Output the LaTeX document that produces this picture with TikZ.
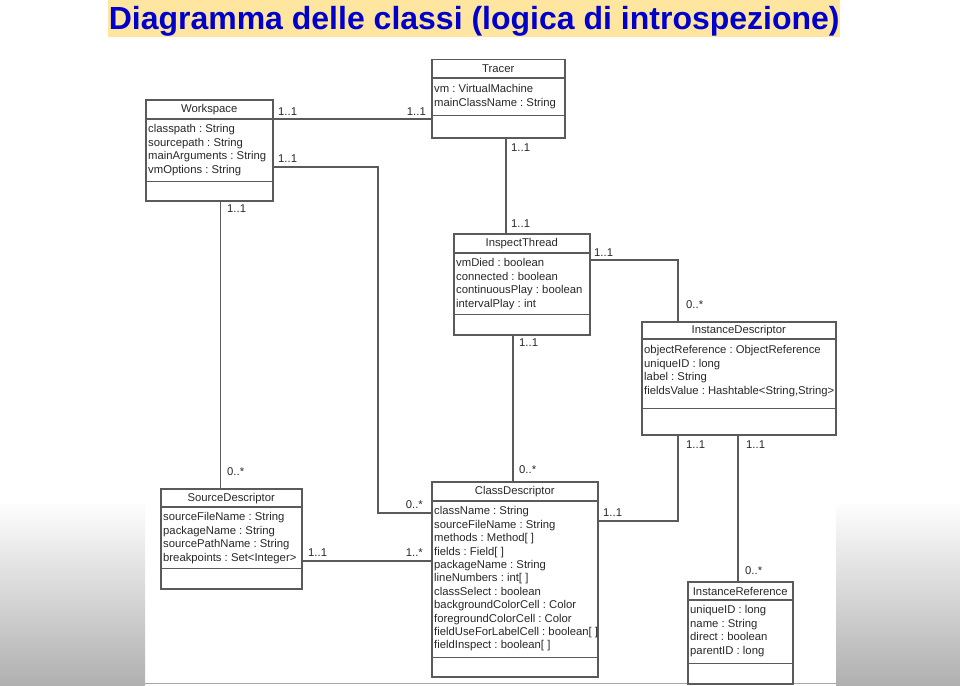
\documentclass[tikz,border=0pt]{standalone}
\usepackage{fontspec}
\setmainfont{Liberation Sans}
\usepackage{xcolor}
\frenchspacing

\definecolor{titleblue}{RGB}{0,0,204}
\definecolor{titleband}{RGB}{255,230,160}
\definecolor{umlline}{RGB}{90,90,90}
\definecolor{umltext}{RGB}{40,40,40}
\newcommand{\clsfont}{\fontsize{11.3}{13.4}\selectfont}

\tikzset{
  cls/.style={draw=umlline, line width=1.5pt, fill=white, anchor=north west, inner sep=0pt},
  ctitle/.style={font=\clsfont, text=umltext, inner sep=0pt},
  attrs/.style={font=\clsfont, text=umltext, align=left, anchor=north west, inner sep=0pt},
  sepline/.style={draw=umlline, line width=1.5pt},
  assoc/.style={draw=umlline, line width=1.5pt},
  mult/.style={font=\clsfont, text=umltext, inner sep=0pt}
}

\begin{document}
\begin{tikzpicture}[x=1pt, y=-1pt]
\useasboundingbox (0,0) rectangle (960,685);

% Background
\shade[top color=white, bottom color=black!31] (0,500) rectangle (145,685);
\shade[top color=white, bottom color=black!31] (836,500) rectangle (960,685);
\draw[black!35, line width=1pt] (145,683.5) -- (836,683.5);

% Title
\node[fill=titleband, minimum width=732, minimum height=37, anchor=north west, inner sep=0pt,
      text height=28pt, text depth=6pt,
      font=\fontsize{32}{36}\selectfont\bfseries, text=titleblue] (title) at (108,0)
      {Diagramma delle classi (logica di introspezione)};

% Workspace
\node[cls, minimum width=127, minimum height=101] (ws) at (145,99) {};
\node[ctitle] (ws-t) at ([yshift=-11pt]ws.north) {Workspace};
\draw[sepline] ([yshift=-20pt]ws.north west) -- ([yshift=-20pt]ws.north east);
\draw[sepline] ([yshift=20pt]ws.south west) -- ([yshift=20pt]ws.south east);
\node[attrs] (ws-a) at ([xshift=3pt,yshift=-25.5pt]ws.north west)
  {classpath : String\\ sourcepath : String\\ mainArguments : String\\ vmOptions : String};

% Tracer
\node[cls, minimum width=133, minimum height=78] (tr) at (431,59) {};
\node[ctitle] (tr-t) at ([yshift=-10pt]tr.north) {Tracer};
\draw[sepline] ([yshift=-19pt]tr.north west) -- ([yshift=-19pt]tr.north east);
\draw[sepline] ([yshift=23pt]tr.south west) -- ([yshift=23pt]tr.south east);
\node[attrs] (tr-a) at ([xshift=3pt,yshift=-25.5pt]tr.north west)
  {vm : VirtualMachine\\ mainClassName : String};

% InspectThread
\node[cls, minimum width=136, minimum height=101] (it) at (453,233) {};
\node[ctitle] (it-t) at ([yshift=-11pt]it.north) {InspectThread};
\draw[sepline] ([yshift=-20pt]it.north west) -- ([yshift=-20pt]it.north east);
\draw[sepline] ([yshift=21pt]it.south west) -- ([yshift=21pt]it.south east);
\node[attrs] (it-a) at ([xshift=3pt,yshift=-25.5pt]it.north west)
  {vmDied : boolean\\ connected : boolean\\ continuousPlay : boolean\\ intervalPlay : int};

% InstanceDescriptor
\node[cls, minimum width=194, minimum height=113] (id) at (641,321) {};
\node[ctitle] (id-t) at ([yshift=-10pt]id.north) {InstanceDescriptor};
\draw[sepline] ([yshift=-18pt]id.north west) -- ([yshift=-18pt]id.north east);
\draw[sepline] ([yshift=27pt]id.south west) -- ([yshift=27pt]id.south east);
\node[attrs] (id-a) at ([xshift=3pt,yshift=-24.5pt]id.north west)
  {objectReference : ObjectReference\\ uniqueID : long\\ label : String\\ fieldsValue : Hashtable<String,String>};

% SourceDescriptor
\node[cls, minimum width=141, minimum height=100] (sd) at (160,488) {};
\node[ctitle] (sd-t) at ([yshift=-10.5pt]sd.north) {SourceDescriptor};
\draw[sepline] ([yshift=-19pt]sd.north west) -- ([yshift=-19pt]sd.north east);
\draw[sepline] ([yshift=21pt]sd.south west) -- ([yshift=21pt]sd.south east);
\node[attrs] (sd-a) at ([xshift=3pt,yshift=-24.5pt]sd.north west)
  {sourceFileName : String\\ packageName : String\\ sourcePathName : String\\ breakpoints : Set<Integer>};

% ClassDescriptor
\node[cls, minimum width=166, minimum height=195] (cd) at (431,481) {};
\node[ctitle] (cd-t) at ([yshift=-11pt]cd.north) {ClassDescriptor};
\draw[sepline] ([yshift=-20pt]cd.north west) -- ([yshift=-20pt]cd.north east);
\draw[sepline] ([yshift=20pt]cd.south west) -- ([yshift=20pt]cd.south east);
\node[attrs] (cd-a) at ([xshift=3pt,yshift=-25.5pt]cd.north west)
  {className : String\\ sourceFileName : String\\ methods : Method[ ]\\ fields : Field[ ]\\
   packageName : String\\ lineNumbers : int[ ]\\ classSelect : boolean\\
   backgroundColorCell : Color\\ foregroundColorCell : Color\\
   fieldUseForLabelCell : boolean[ ]\\ fieldInspect : boolean[ ]};

% InstanceReference
\node[cls, minimum width=105, minimum height=102] (ir) at (687,581) {};
\node[ctitle] (ir-t) at ([yshift=-10.5pt]ir.north) {InstanceReference};
\draw[sepline] ([yshift=-19pt]ir.north west) -- ([yshift=-19pt]ir.north east);
\draw[sepline] ([yshift=21pt]ir.south west) -- ([yshift=21pt]ir.south east);
\node[attrs] (ir-a) at ([xshift=3pt,yshift=-24.5pt]ir.north west)
  {uniqueID : long\\ name : String\\ direct : boolean\\ parentID : long};

% Associations
\coordinate (bend1) at (378,513);
\draw[assoc] ([yshift=-20pt]ws.north east) -- ([yshift=-20pt]ws.north east -| tr.west);
\draw[assoc] ([yshift=-68pt]ws.north east) -| (bend1) -- (bend1 -| cd.west);
\draw[assoc] ([xshift=75.5pt]ws.south west) -- ([xshift=75.5pt]ws.south west |- sd.north);
\draw[assoc] ([xshift=75pt]tr.south west) -- ([xshift=75pt]tr.south west |- it.north);
\draw[assoc] ([yshift=-27pt]it.north east) -| ([xshift=37pt]id.north west);
\draw[assoc] ([xshift=60pt]it.south west) -- ([xshift=60pt]it.south west |- cd.north);
\draw[assoc] ([xshift=37pt]id.south west) |- ([yshift=-40pt]cd.north east);
\draw[assoc] ([xshift=97pt]id.south west) -- ([xshift=97pt]id.south west |- ir.north);
\draw[assoc] ([yshift=-73pt]sd.north east) -- ([yshift=-73pt]sd.north east -| cd.west);

% Multiplicities
\node[mult, anchor=west] (m1) at (278,112) {1..1};
\node[mult, anchor=east] (m2) at (426,112) {1..1};
\node[mult, anchor=west] (m3) at (278,159) {1..1};
\node[mult, anchor=west] (m4) at (227,209) {1..1};
\node[mult, anchor=west] (m5) at (227,472) {0..*};
\node[mult, anchor=west] (m6) at (511,148) {1..1};
\node[mult, anchor=west] (m7) at (511,224) {1..1};
\node[mult, anchor=west] (m8) at (594,253) {1..1};
\node[mult, anchor=west] (m9) at (686,305) {0..*};
\node[mult, anchor=west] (m10) at (519,343) {1..1};
\node[mult, anchor=west] (m11) at (519,470) {0..*};
\node[mult, anchor=west] (m12) at (686,445) {1..1};
\node[mult, anchor=west] (m13) at (746,445) {1..1};
\node[mult, anchor=west] (m14) at (603,513) {1..1};
\node[mult, anchor=west] (m15) at (745,571) {0..*};
\node[mult, anchor=west] (m16) at (308,553) {1..1};
\node[mult, anchor=east] (m17) at (423,553) {1..*};
\node[mult, anchor=east] (m18) at (423,505) {0..*};
\end{tikzpicture}
\end{document}
